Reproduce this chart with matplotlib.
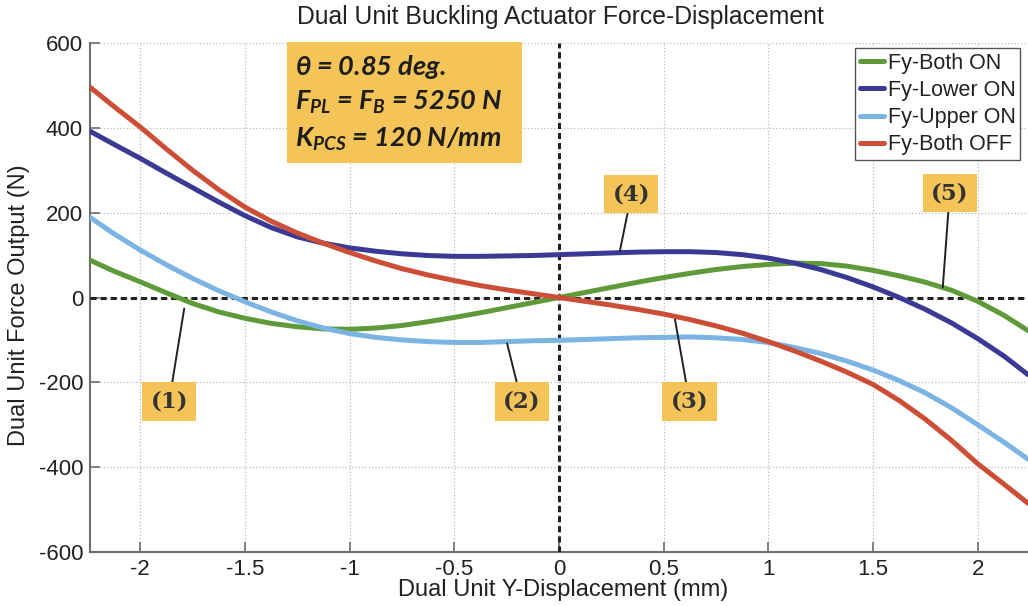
import matplotlib
matplotlib.use("Agg")
import matplotlib.pyplot as plt

# ---------------- data ----------------
x_mm = [-2.24, -2.125, -2.0, -1.875, -1.75, -1.625, -1.5, -1.375, -1.25, -1.125,
        -1.0, -0.875, -0.75, -0.625, -0.5, -0.375, -0.25, -0.125, 0.0,
        0.125, 0.25, 0.375, 0.5, 0.625, 0.75, 0.875, 1.0, 1.125,
        1.25, 1.375, 1.5, 1.625, 1.75, 1.875, 2.0, 2.125, 2.24]
fy_both_on = [88, 62, 37, 11, -14, -34, -49, -61, -69, -74,
              -75, -72, -66, -57, -47, -36, -24, -12, 0,
              12, 24, 36, 47, 57, 66, 73, 78, 81,
              80, 74, 64, 51, 36, 17, -9, -42, -78]
fy_lower_on = [392, 361, 328, 293, 259, 225, 193, 165, 143, 128,
               117, 109, 103, 99, 97, 97, 98, 99, 101,
               103, 105, 107, 108, 108, 106, 101, 93, 81,
               66, 47, 25, 0, -28, -60, -97, -138, -182]
fy_upper_on = [189, 150, 112, 77, 45, 16, -10, -34, -55, -72,
               -85, -94, -100, -104, -106, -106, -104, -102, -101,
               -99, -97, -95, -94, -93, -95, -99, -106, -118,
               -132, -150, -171, -196, -225, -260, -300, -341, -381]
fy_both_off = [496, 450, 402, 350, 300, 254, 213, 180, 152, 128,
               106, 86, 68, 53, 40, 28, 18, 9, 0,
               -9, -18, -28, -39, -52, -67, -84, -104, -126,
               -150, -176, -205, -243, -287, -337, -392, -440, -485]

series_labels = ["Fy-Both ON", "Fy-Lower ON", "Fy-Upper ON", "Fy-Both OFF"]
series_colors = ["#5E9A3A", "#3A3A94", "#7BB4E2", "#CC4E36"]

x_ticks = [-2, -1.5, -1, -0.5, 0, 0.5, 1, 1.5, 2]
x_tick_labels = ["-2", "-1.5", "-1", "-0.5", "0", "0.5", "1", "1.5", "2"]
y_ticks = [-600, -400, -200, 0, 200, 400, 600]
y_tick_labels = ["-600", "-400", "-200", "0", "200", "400", "600"]

title = "Dual Unit Buckling Actuator Force-Displacement"
xlabel = "Dual Unit Y-Displacement (mm)"
ylabel = "Dual Unit Force Output (N)"

param_lines = [r"$\theta$ = 0.85 deg.",
               r"F$_{PL}$ = F$_{B}$ = 5250 N",
               r"K$_{PCS}$ = 120 N/mm"]

# annotation: label, pointed point (data), label centre (data)
annotations = [("(1)", (-1.79, -26), (-1.862, -245)),
               ("(2)", (-0.248, -108), (-0.179, -245)),
               ("(3)", (0.554, -52), (0.623, -245)),
               ("(4)", (0.291, 110), (0.346, 244)),
               ("(5)", (1.833, 24), (1.866, 246))]

# ---------------- figure ----------------
plt.rcParams['axes.unicode_minus'] = False
plt.rcParams['mathtext.fontset'] = 'custom'
plt.rcParams['mathtext.it'] = 'Lato:italic:bold'
plt.rcParams['mathtext.rm'] = 'Lato:italic:bold'
plt.rcParams['mathtext.bf'] = 'Lato:italic:bold'

W, H = 1028, 606
fig = plt.figure(figsize=(W / 100, H / 100), dpi=100)
left_px, right_px, top_px, bot_px = 90, 1028, 43, 552
ax = fig.add_axes([left_px / W, 1 - bot_px / H,
                   (right_px - left_px) / W, (bot_px - top_px) / H])

gray = "#6E6E6E"
font = "Liberation Sans"

for ys, lab, col in zip([fy_both_on, fy_lower_on, fy_upper_on, fy_both_off],
                        series_labels, series_colors):
    ax.plot(x_mm, ys, color=col, lw=3.6, label=lab, solid_capstyle='round',
            solid_joinstyle='round', zorder=4)

ax.axhline(0, color="#222222", lw=2.2, ls=(0, (2.0, 1.3)), zorder=3)
ax.axvline(0, color="#222222", lw=2.2, ls=(0, (2.0, 1.3)), zorder=3)

ax.set_xlim(-2.24, 2.24)
ax.set_ylim(-600, 600)
ax.set_xticks(x_ticks)
ax.set_xticklabels(x_tick_labels)
ax.set_yticks(y_ticks)
ax.set_yticklabels(y_tick_labels)
ax.grid(True, color="#BBBBBB", ls=":", lw=0.9)
ax.set_axisbelow(True)
ax.tick_params(direction='in', length=7, width=1.2, color=gray,
               labelsize=16, labelcolor="#222222", pad=5)
for lab in ax.get_xticklabels() + ax.get_yticklabels():
    lab.set_fontfamily(font)
for s in ['top', 'right']:
    ax.spines[s].set_visible(False)
for s in ['left', 'bottom']:
    ax.spines[s].set_color(gray)
    ax.spines[s].set_linewidth(1.5)

fig.text(560 / W, 1 - 17 / H, title, ha='center', va='center',
         fontsize=17.8, family=font, color="#222222")
fig.text(563 / W, 1 - 590 / H, xlabel, ha='center', va='center',
         fontsize=17, family=font, color="#222222")
fig.text(19 / W, 1 - 305 / H, ylabel, ha='center', va='center', rotation=90,
         fontsize=17, family=font, color="#222222")

box_color = "#F4C458"

# parameter box
ax.add_patch(plt.Rectangle((287 / W, 1 - 163 / H), (522 - 287) / W, (163 - 42) / H,
                           transform=fig.transFigure, facecolor=box_color,
                           edgecolor='none', zorder=5, clip_on=False))
for yb, line in zip([75, 110, 147], param_lines):
    fig.text(295 / W, 1 - yb / H, line, ha='left', va='baseline',
             fontsize=19.5, family='Lato', weight='bold', style='italic',
             color="#1E1E1E", zorder=6)

# numbered annotations
for lab, pt, tx in annotations:
    ax.annotate(lab, xy=pt, xytext=tx, ha='center', va='center',
                fontsize=16.5, family='DejaVu Serif', weight='bold', color="#333333",
                bbox=dict(boxstyle='square,pad=0.36', fc=box_color, ec='none'),
                arrowprops=dict(arrowstyle='-', color='#222222', lw=1.4,
                                shrinkA=0, shrinkB=0),
                zorder=6)

leg = ax.legend(loc='upper left', bbox_to_anchor=(855 / W, 1 - 48 / H),
                bbox_transform=fig.transFigure,
                prop={'family': font, 'size': 15.5},
                handlelength=1.15, handletextpad=0.15, borderpad=0.22,
                labelspacing=0.29, borderaxespad=0, fancybox=False,
                framealpha=1, edgecolor="#555555")
leg.get_frame().set_linewidth(1.0)
for t in leg.get_texts():
    t.set_color("#222222")
leg.set_zorder(7)

fig.savefig("out.png", dpi=100)
